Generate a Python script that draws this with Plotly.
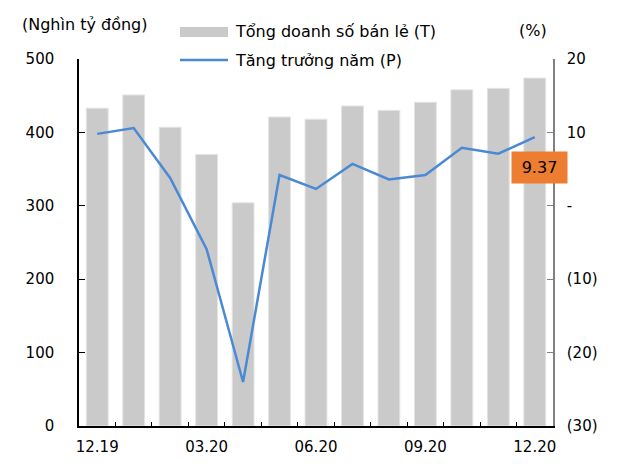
import plotly.graph_objects as go

# Monthly retail sales (thousand billion VND) and year-on-year growth (%)
months = ["12.19", "01.20", "02.20", "03.20", "04.20", "05.20", "06.20",
          "07.20", "08.20", "09.20", "10.20", "11.20", "12.20"]
sales = [433, 451, 407, 370, 304, 421, 418, 436, 430, 441, 458, 460, 474]
growth = [9.8, 10.6, 3.8, -5.9, -24.0, 4.2, 2.3, 5.7, 3.6, 4.2, 7.9, 7.1, 9.37]

shown_labels = {"12.19", "03.20", "06.20", "09.20", "12.20"}
tick_text = [m if m in shown_labels else "" for m in months]

right_vals = [-30, -20, -10, 0, 10, 20]
right_text = ["(30)", "(20)", "(10)", "-", "10", "20"]

W, H = 627, 464
L, R, T, B = 79, 74, 59, 38
FONT = "DejaVu Sans"
BAR_COLOR = "#CACACA"
LINE_COLOR = "#4A89D4"


def px(x):
    return (x - L) / (W - L - R)


def py(y):
    return (H - B - y) / (H - T - B)


fig = go.Figure()
fig.add_trace(go.Bar(
    x=months, y=sales, name="Tổng doanh số bán lẻ (T)",
    marker=dict(color=BAR_COLOR, line=dict(color="#E4E4E4", width=1)),
    width=0.6, showlegend=False,
))
fig.add_trace(go.Scatter(
    x=months, y=growth, name="Tăng trưởng năm (P)", yaxis="y2",
    mode="lines", line=dict(color=LINE_COLOR, width=2.5),
    showlegend=False,
))

tick_font = dict(family=FONT, size=15, color="black")

fig.update_layout(
    width=W, height=H,
    margin=dict(l=L, r=R, t=T, b=B),
    paper_bgcolor="white", plot_bgcolor="white",
    font=dict(family=FONT, size=15, color="black"),
    xaxis=dict(
        type="category", tickmode="array", tickvals=months, ticktext=tick_text,
        tickson="boundaries", ticks="inside", ticklen=4, tickcolor="black",
        tickangle=0, tickfont=tick_font, automargin=False,
        showline=True, linecolor="black", linewidth=1.5,
        showgrid=False, zeroline=False, ticklabelstandoff=6,
        range=[-0.5, 12.5],
    ),
    yaxis=dict(
        range=[0, 500], tickvals=[0, 100, 200, 300, 400, 500],
        ticks="inside", ticklen=6, tickcolor="black",
        tickfont=tick_font, automargin=False,
        showline=True, linecolor="black", linewidth=1.5,
        showgrid=False, zeroline=False, ticklabelstandoff=20,
    ),
    yaxis2=dict(
        overlaying="y", side="right", range=[-30, 20],
        tickmode="array", tickvals=right_vals, ticktext=right_text,
        ticks="inside", ticklen=6, tickcolor="#808080",
        tickfont=tick_font, automargin=False,
        showline=True, linecolor="#808080", linewidth=1.5,
        showgrid=False, zeroline=False, ticklabelstandoff=9,
    ),
    bargap=0.4,
)

# Header labels for the two axes
fig.add_annotation(text="(Nghìn tỷ đồng)", xref="paper", yref="paper",
                   x=px(20), y=py(25), xanchor="left", yanchor="middle",
                   showarrow=False, font=dict(size=16))
fig.add_annotation(text="(%)", xref="paper", yref="paper",
                   x=px(517), y=py(30), xanchor="left", yanchor="middle",
                   showarrow=False, font=dict(size=16))

# Legend drawn as swatches with text
fig.add_shape(type="rect", xref="paper", yref="paper",
              x0=px(180), x1=px(228), y0=py(37), y1=py(27),
              fillcolor=BAR_COLOR, line=dict(width=0))
fig.add_shape(type="line", xref="paper", yref="paper",
              x0=px(180), x1=px(228), y0=py(60), y1=py(60),
              line=dict(color=LINE_COLOR, width=2.5))
fig.add_annotation(text="Tổng doanh số bán lẻ (T)", xref="paper", yref="paper",
                   x=px(233), y=py(32), xanchor="left", yanchor="middle",
                   showarrow=False, font=dict(size=16))
fig.add_annotation(text="Tăng trưởng năm (P)", xref="paper", yref="paper",
                   x=px(233), y=py(60), xanchor="left", yanchor="middle",
                   showarrow=False, font=dict(size=16))

# Latest growth value callout
fig.add_annotation(text=f"{growth[-1]:.2f}", x=months[-1], y=growth[-1],
                   xref="x", yref="y2", showarrow=False,
                   xshift=-3, yshift=-30,
                   bgcolor="#ED7D31", width=53, height=29, borderpad=1,
                   font=dict(size=16, color="black"))

fig.write_html("out.html")
